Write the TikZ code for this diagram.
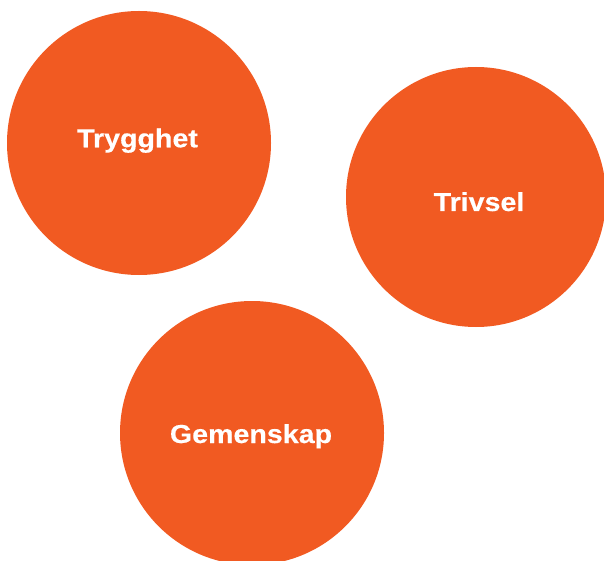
\documentclass[tikz,border=0pt]{standalone}
\usepackage{fontspec}
\usepackage{tikz}
\usetikzlibrary{positioning}
\newfontfamily\blobfont[FakeStretch=1.1, FakeBold=0.4]{Liberation Sans}
\definecolor{bloborange}{HTML}{F15A22}

\begin{document}
\begin{tikzpicture}[x=1pt, y=-1pt,
	blob/.style={circle, fill=bloborange, inner sep=0},
	word/.style={anchor=base, inner sep=0, text=white,
		font=\blobfont\bfseries\fontsize{26}{30}\selectfont}]
	\useasboundingbox (0,0) rectangle (604,561);
	\node[blob, minimum size=264pt] (trygghet) at (139,143) {};
	\node[blob, minimum size=260pt] (trivsel) at (476,197) {};
	\node[blob, minimum size=264pt] (gemenskap) at (252,433) {};
	\node[word] (trygghet text) at (137.5,147.3) {Trygghet};
	\node[word] (trivsel text) at (479,211) {Trivsel};
	\node[word] (gemenskap text) at (251,443) {Gemenskap};
\end{tikzpicture}
\end{document}
